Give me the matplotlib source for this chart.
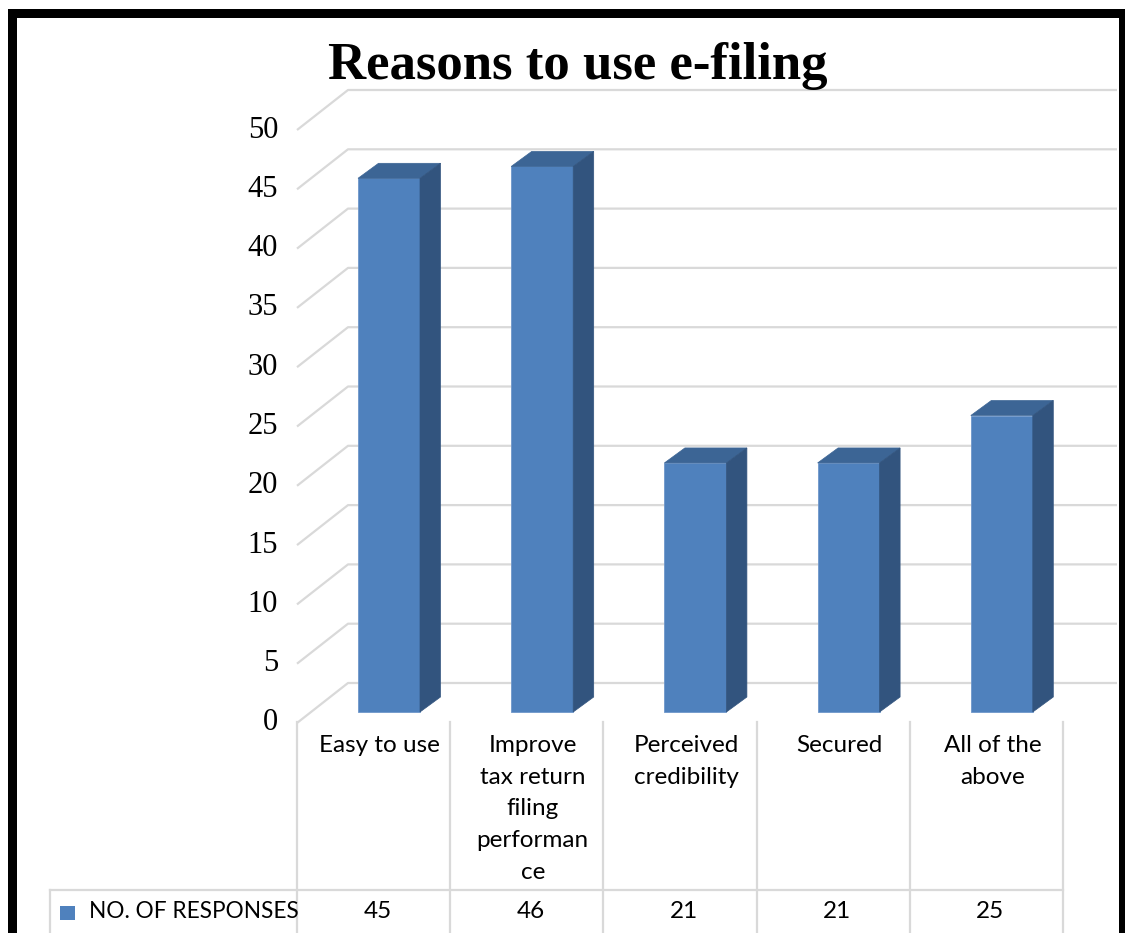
import matplotlib
matplotlib.use('Agg')
import matplotlib.pyplot as plt
from matplotlib.patches import Rectangle, Polygon

# ---------------- data ----------------
categories = ["Easy to use",
              "Improve\ntax return\nfiling\nperforman\nce",
              "Perceived\ncredibility",
              "Secured",
              "All of the\nabove"]
responses = [45, 46, 21, 21, 25]
y_ticks = [0, 5, 10, 15, 20, 25, 30, 35, 40, 45, 50]
series_name = "NO. OF RESPONSES"
title = "Reasons to use e-filing"

# ---------------- layout ----------------
W, H = 1125, 933
DPI = 100
fig = plt.figure(figsize=(W / DPI, H / DPI), dpi=DPI)
fig.patch.set_facecolor('white')

X0, X1 = 297, 1063      # category span (pixels from left)
Y0 = 723                # value 0 at the front of the floor (pixels from top)
PXV = 11.86             # pixels per value unit
YMAX = 55
top_px = Y0 - YMAX * PXV
ax = fig.add_axes([X0 / W, 1 - Y0 / H, (X1 - X0) / W, (Y0 - top_px) / H])
ax.set_xlim(-0.5, len(categories) - 0.5)
ax.set_ylim(0, YMAX)
ax.axis('off')
PXX = (X1 - X0) / len(categories)


def dx(px):
    return px / PXX


def dy(px):
    return px / PXV


def xd(px):
    return (px - X0) / PXX - 0.5


def yv(py):
    return (Y0 - py) / PXV


FRONT = '#4F81BD'
TOP = '#3C6595'
SIDE = '#32547E'
GRID = '#d9d9d9'
CAT_FONT = ['Lato', 'DejaVu Sans']
SERIF = ['Liberation Serif', 'DejaVu Serif']

# ---------------- 3D back wall gridlines ----------------
depth_x, depth_y = dx(51), dy(40)
for v in y_ticks:
    ax.plot([-0.5, -0.5 + depth_x, xd(1117)], [v, v + depth_y, v + depth_y],
            color=GRID, lw=1.6, zorder=1, clip_on=False, solid_capstyle='butt')
    ax.text(xd(278), v, str(v), ha='right', va='center', fontsize=22,
            family=SERIF, clip_on=False)

# ---------------- bars ----------------
fx, fy = dx(15.4), dy(11)
bw = dx(62)
ddx, ddy = dx(20.5), dy(15)
xs = [i + fx for i in range(len(categories))]
ax.bar(xs, responses, width=bw, bottom=fy, color=FRONT, edgecolor='#6F97CB',
       linewidth=0.6, zorder=4, clip_on=False)
for x, v in zip(xs, responses):
    xl, xr = x - bw / 2, x + bw / 2
    ax.add_patch(Polygon([(xl, fy + v), (xr, fy + v), (xr + ddx, fy + v + ddy),
                          (xl + ddx, fy + v + ddy)], closed=True,
                         facecolor=TOP, edgecolor=TOP, lw=0.5, zorder=5, clip_on=False))
    ax.add_patch(Polygon([(xr, fy), (xr + ddx, fy + ddy), (xr + ddx, fy + v + ddy),
                          (xr, fy + v)], closed=True,
                         facecolor=SIDE, edgecolor=SIDE, lw=0.5, zorder=5, clip_on=False))

# ---------------- data table ----------------
for k in range(len(categories) + 1):
    ax.plot([k - 0.5, k - 0.5], [yv(722), yv(940)], color=GRID, lw=1.6,
            zorder=1, clip_on=False)
ax.plot([xd(50), len(categories) - 0.5], [yv(890), yv(890)], color=GRID, lw=1.6,
        zorder=1, clip_on=False)
ax.plot([xd(50), xd(50)], [yv(890), yv(940)], color=GRID, lw=1.6,
        zorder=1, clip_on=False)

for i, cat in enumerate(categories):
    ax.text(i + dx(6), yv(735), cat, ha='center', va='top', fontsize=17.5,
            family=CAT_FONT, linespacing=1.63, multialignment='center',
            clip_on=False)
for i, v in enumerate(responses):
    ax.text(i + dx(4), yv(912), str(v), ha='center', va='center', fontsize=17.5,
            family=CAT_FONT, clip_on=False)

ax.add_patch(Rectangle((xd(60), yv(920)), dx(15), dy(14), facecolor=FRONT,
                       edgecolor='none', clip_on=False))
ax.text(xd(89), yv(912), series_name, ha='left', va='center', fontsize=16.3,
        family=CAT_FONT, clip_on=False)

# ---------------- title ----------------
fig.text(578 / W, 1 - 66 / H, title, ha='center', va='center', family=SERIF,
         weight='bold', fontsize=38)

# ---------------- outer black frame ----------------
fig.add_artist(Rectangle((11.5 / W, 1 - 935.5 / H), (1122.5 - 11.5) / W,
                         (935.5 - 13.5) / H, transform=fig.transFigure,
                         facecolor='none', edgecolor='black', lw=9 * 72 / DPI,
                         clip_on=False, zorder=10))

fig.savefig('out.png', dpi=DPI)
